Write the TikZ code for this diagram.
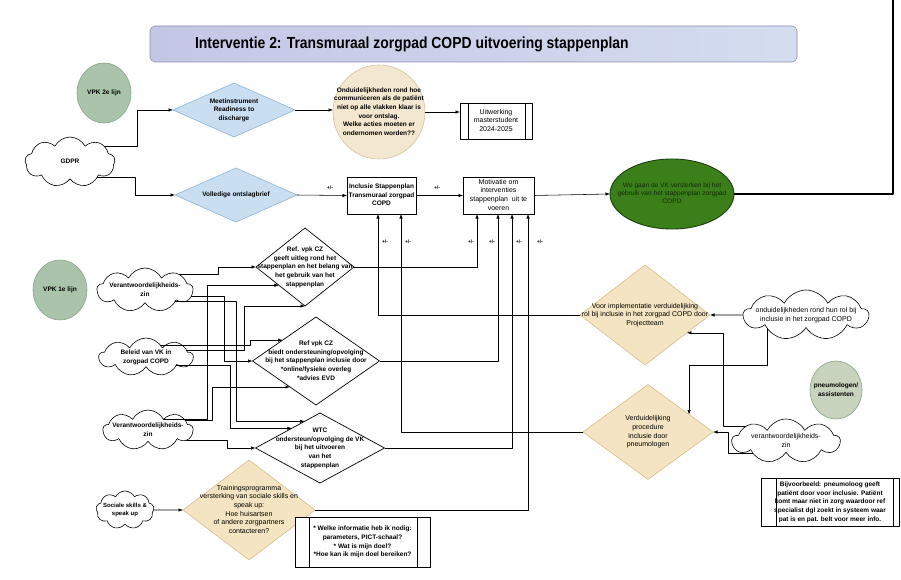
\documentclass[tikz,border=0pt]{standalone}
\usepackage{fontspec}
\setmainfont{Liberation Sans}
\usepackage{graphicx}
\usetikzlibrary{shapes.geometric,shapes.symbols,arrows.meta,calc}

\definecolor{bluefill}{HTML}{C9DFF1}
\definecolor{blueline}{HTML}{8DB3D6}
\definecolor{beigefill}{HTML}{F4E4C1}
\definecolor{beigeline}{HTML}{D5BE8C}
\definecolor{ovalfill}{HTML}{F3E8CF}
\definecolor{ovalline}{HTML}{D2C29C}
\definecolor{sagefill}{HTML}{A9C4AA}
\definecolor{sageline}{HTML}{86A487}
\definecolor{pneufill}{HTML}{C8D3BE}
\definecolor{greenfill}{HTML}{3A7F19}
\definecolor{greenline}{HTML}{1F3F10}
\definecolor{greentext}{HTML}{16280A}
\definecolor{titleL}{HTML}{C4C6E6}
\definecolor{titleR}{HTML}{D4DDF0}
\definecolor{titleline}{HTML}{8E90AC}

\newcommand{\ztext}[1]{\smash{\makebox[0pt]{\raisebox{-0.25em}{\begin{tabular}{@{}c@{}}#1\end{tabular}}}}}
\newcommand{\txtb}{\fontsize{6.5}{8.6}\selectfont\bfseries}
\newcommand{\txtr}{\fontsize{7}{8.6}\selectfont}
\newcommand{\titlefnt}{\fontsize{16}{18}\selectfont\bfseries}

\begin{document}
\begin{tikzpicture}[x=1pt, y=-1pt, line join=round,
  base/.style={inner sep=0pt, outer sep=0pt},
  sz/.style 2 args={minimum width=#1pt, minimum height=#2pt},
  arr/.style={draw=black, line width=0.55pt, -{Latex[length=4.5pt,width=3.4pt]}},
  bdiam/.style={base, diamond, draw=blueline, fill=bluefill, line width=0.6pt, font=\txtb},
  ydiam/.style={base, diamond, draw=beigeline, fill=beigefill, line width=0.6pt, font=\txtr},
  wdiam/.style={base, diamond, draw=black, fill=white, line width=0.7pt, font=\txtb},
  cld/.style={base, cloud, cloud puffs=9, cloud puff arc=125, cloud ignores aspect, draw=black, fill=white, line width=0.6pt, font=\txtb},
  box/.style={base, rectangle, draw=black, fill=white, line width=0.6pt, font=\txtb},
  circ/.style={base, ellipse, draw=sageline, fill=sagefill, line width=0.6pt, font=\txtb},
  pm/.style={base, font=\fontsize{5}{6}\selectfont\bfseries},
  titlebar/.style={base, rectangle, rounded corners=5pt, draw=titleline, left color=titleL, right color=titleR, line width=0.6pt}
]
\useasboundingbox (0,0) rectangle (901,580);
\fill[white] (0,0) rectangle (901,580);

% title
\node[titlebar, sz={647}{36}] (title) at (473.5,44)
  {\makebox[647pt][l]{\hspace{45pt}\titlefnt\scalebox{0.87}[1]{Interventie 2: Transmuraal zorgpad COPD uitvoering stappenplan}}};

% top part
\node[circ, sz={54}{60}] (vpk2) at (104,93) {\ztext{VPK 2e lijn}};
\node[cld, sz={90}{50}] (gdpr) at (70,162) {\ztext{GDPR}};
\node[bdiam, sz={122}{54}] (meet) at (234,110) {\ztext{Meetinstrument\\Readiness to\\discharge}};
\node[bdiam, sz={122}{54}] (voll) at (236,195) {\ztext{Volledige ontslagbrief}};
\node[base, ellipse, draw=ovalline, fill=ovalfill, line width=0.6pt, font=\txtb, sz={92}{94}] (ond) at (379,112)
  {\ztext{Onduidelijkheden rond hoe\\communiceren als de patiënt\\niet op alle vlakken klaar is\\voor ontslag.\\Welke acties moeten er\\ondernomen worden??}};
\node[box, font=\txtr, sz={72}{36}] (uitw) at (496,121) {\ztext{Uitwerking\\masterstudent\\2024-2025}};
\node[box, sz={69}{37}] (incl) at (381.5,195.5) {\ztext{Inclusie Stappenplan\\Transmuraal zorgpad\\COPD}};
\node[box, font=\txtr, sz={71}{37}] (mot) at (498.5,195.5) {\ztext{Motivatie om\\interventies\\stappenplan\ \ uit te\\voeren}};
\node[base, ellipse, draw=greenline, fill=greenfill, line width=0.9pt, font=\fontsize{6.6}{8.4}\selectfont, text=greentext, sz={124}{70}] (green) at (672,194)
  {\ztext{We gaan de VK versterken bij het\\gebruik van het stappenplan zorgpad\\COPD}};

% left part
\node[circ, sz={54}{60}] (vpk1) at (60,290) {\ztext{VPK 1e lijn}};
\node[cld, sz={96}{44}] (c1) at (145,290) {\ztext{Verantwoordelijkheids-\\zin}};
\node[cld, sz={94}{38}] (c2) at (146,357) {\ztext{Beleid van VK in\\zorgpad COPD}};
\node[cld, sz={90}{40}] (c3) at (148,430) {\ztext{Verantwoordelijkheids-\\zin}};
\node[wdiam, sz={98}{78}] (d1) at (305,267) {\ztext{Ref. vpk CZ\\geeft uitleg rond het\\stappenplan en het belang van\\het gebruik van het\\stappenplan}};
\node[wdiam, sz={127}{88}] (d2) at (316,361) {\ztext{Ref vpk CZ\\biedt ondersteuning/opvolging\\bij het stappenplan inclusie door\\{*}online/fysieke overleg\\{*}advies EVD}};
\node[wdiam, sz={129}{70}] (wtc) at (320,448) {\ztext{WTC\\ondersteun/opvolging de VK\\bij het uitvoeren\\van het\\stappenplan}};

% right part
\node[ydiam, sz={130}{100}] (vimpl) at (645,315) {\ztext{Voor implementatie verduidelijking\\rol bij inclusie in het zorgpad COPD door\\Projectteam}};
\node[ydiam, sz={130}{95}] (verd) at (648,432) {\ztext{Verduidelijking\\procedure\\inclusie door\\pneumologen}};
\node[cld, font=\txtr, sz={125}{50}] (ondr) at (806,315) {\ztext{onduidelijkheden rond hun rol bij\\inclusie in het zorgpad COPD}};
\node[circ, fill=pneufill, sz={52}{58}] (pneu) at (836,390) {\ztext{pneumologen/\\assistenten}};
\node[cld, font=\txtr, sz={108}{44}] (vr) at (786,441) {\ztext{verantwoordelijkheids-\\zin}};

% bottom part
\node[ydiam, sz={132}{100}] (train) at (249,510) {\ztext{Trainingsprogramma\\versterking van sociale skills en\\speak up:\\Hoe huisartsen\\of andere zorgpartners\\contacteren?}};
\node[cld, font=\fontsize{6}{7.6}\selectfont\bfseries, sz={58}{38}] (soc) at (125,510) {\ztext{Sociale skills \&\\speak up}};
\node[box, sz={135}{50}] (info) at (362.5,542) {\ztext{{*} Welke informatie heb ik nodig:\\parameters, PICT-schaal?\\{*} Wat is mijn doel?\\{*}Hoe kan ik mijn doel bereiken?}};
\node[box, sz={138}{48}] (bijv) at (830,502) {\ztext{Bijvoorbeeld: pneumoloog geeft\\patiënt door voor inclusie. Patiënt\\komt maar niet in zorg waardoor ref\\specialist dgl zoekt in systeem waar\\pat is en pat. belt voor meer info.}};

% inner lines of process boxes
\draw[line width=0.5pt] ([xshift=8pt]uitw.north west) -- ([xshift=8pt]uitw.south west);
\draw[line width=0.5pt] ([xshift=-7pt]uitw.north east) -- ([xshift=-7pt]uitw.south east);
\draw[line width=0.5pt] ([xshift=14pt]info.north west) -- ([xshift=14pt]info.south west);
\draw[line width=0.5pt] ([xshift=-13pt]info.north east) -- ([xshift=-13pt]info.south east);
\draw[line width=0.5pt] ([xshift=15pt]bijv.north west) -- ([xshift=15pt]bijv.south west);
\draw[line width=0.5pt] ([xshift=-6pt]bijv.north east) -- ([xshift=-6pt]bijv.south east);

% helper coordinates
\foreach \xx in {135,137,207,212,218,224,227,230,236,244,250,378,401,477,498,512,528,723,728}
  \coordinate (x\xx) at (\xx,0);
\coordinate (j1y) at (0,365);
\coordinate (topR) at (893,0);

% top connectors
\draw[arr] (gdpr.25) -- (gdpr.25 -| x137) |- (meet.west);
\draw[arr] (gdpr.-30) -- (gdpr.-30 -| x135) |- (voll.west);
\draw[arr] (meet.east) -- (ond.west |- meet.east);
\draw[arr] (ond.east) -- (uitw.west |- ond.east);
\draw[arr] (voll.east) -- (incl.west);
\draw[arr] (incl.east) -- (mot.west);
\draw[arr] (mot.east) -- (green.west);
\draw[line width=2.6pt] (green.east) -| (topR);

% +/- labels
\node[pm] (pm1) at (330,188) {+/-};
\node[pm] (pm2) at (437,188) {+/-};
\node[pm] (pm3) at (385,242) {+/-};
\node[pm] (pm4) at (408,242) {+/-};
\node[pm] (pm5) at (471,242) {+/-};
\node[pm] (pm6) at (492,242) {+/-};
\node[pm] (pm7) at (519,242) {+/-};
\node[pm] (pm8) at (540,242) {+/-};

% vertical feedback lines
\draw[arr] (d1.east) -| (x477 |- mot.south);
\draw[arr] (d2.east) -| (x498 |- mot.south);
\draw[arr] (wtc.east) -| (x512 |- mot.south);
\draw[arr] (train.east) -| (x528 |- mot.south);
\draw[arr] (vimpl.west) -| (x378 |- incl.south);
\draw[arr] (verd.west) -| (x401 |- incl.south);

% right connectors
\draw[arr] (ondr.west) -- (vimpl.east);
\draw[arr] (ondr.200) |- (verd.23 |- j1y) -- (verd.23);
\draw[arr] (vr.160) -- (vr.160 -| x723) |- (vimpl.-23);
\draw[arr] (vr.200) -- (vr.200 -| x728) |- (verd.east);

% left connectors
\draw[arr] (c1.25) -- (c1.25 -| x218) |- (d1.west);
\draw[arr] (c1.-8) -- (c1.-8 -| x224) |- (d2.west);
\draw[arr] (c1.-20) -- (c1.-20 -| x236) |- (wtc.120);
\draw[arr] (c2.40) -- (c2.40 -| x250) |- (d2.148);
\draw[arr] (c2.10) -- (c2.10 -| x244) |- (d1.south);
\draw[arr] (c2.-15) -- (c2.-15 -| x230) |- (wtc.145);
\draw[arr] (c3.35) -- (c3.35 -| x207) |- (d1.215);
\draw[arr] (c3.15) -- (c3.15 -| x212) |- (d2.225);
\draw[arr] (c3.-15) -- (c3.-15 -| x227) |- (wtc.west);

% bottom connector
\draw[arr] (soc.east) -- (train.west);
\end{tikzpicture}
\end{document}
